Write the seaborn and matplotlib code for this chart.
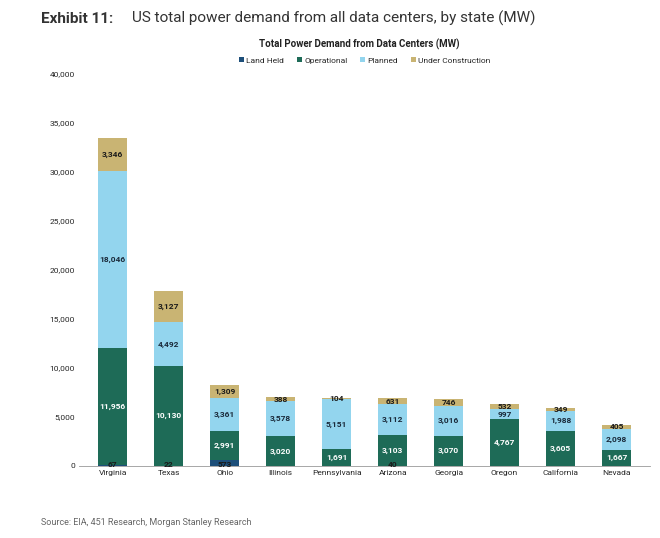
import numpy as np
import pandas as pd
import matplotlib
matplotlib.use("Agg")
import matplotlib.pyplot as plt
import seaborn as sns

states = ['Virginia', 'Texas', 'Ohio', 'Illinois', 'Pennsylvania',
          'Arizona', 'Georgia', 'Oregon', 'California', 'Nevada']
land_held = [67, 22, 573, 0, 0, 40, 0, 0, 0, 0]
operational = [11956, 10130, 2991, 3020, 1691, 3103, 3070, 4767, 3605, 1667]
planned = [18046, 4492, 3361, 3578, 5151, 3112, 3016, 997, 1988, 2098]
under_construction = [3346, 3127, 1309, 388, 104, 631, 746, 532, 349, 405]

series = {'Land Held': land_held, 'Operational': operational,
          'Planned': planned, 'Under Construction': under_construction}
colors = {'Land Held': '#1d4f7a', 'Operational': '#1e6b57',
          'Planned': '#93d5ee', 'Under Construction': '#c9b473'}
text_colors = {'Land Held': '#1a1a1a', 'Operational': 'white',
               'Planned': '#1a2a3a', 'Under Construction': '#1a1a1a'}

df = pd.DataFrame(series, index=states)

sns.set_theme(style='white')
plt.rcParams['font.family'] = ['Roboto', 'DejaVu Sans']

fig = plt.figure(figsize=(6.6, 5.38), dpi=100)
ax = fig.add_axes([0.12, 0.134, 0.865, 0.73])

x = np.arange(len(states))
bottom = np.zeros(len(states))
for name, vals in series.items():
    vals = np.array(vals, dtype=float)
    ax.bar(x, vals, bottom=bottom, width=0.52, color=colors[name], label=name,
           linewidth=0)
    for xi, b, v in zip(x, bottom, vals):
        if v <= 0:
            continue
        y = b + v / 2
        if name == 'Land Held':
            y = b + 100
        ax.text(xi, y, f'{int(v):,}', ha='center', va='center',
                fontsize=6, fontweight='bold', color=text_colors[name])
    bottom += vals

ax.set_ylim(0, 40000)
ax.set_yticks(range(0, 40001, 5000))
ax.set_yticklabels([f'{v:,}' for v in range(0, 40001, 5000)], fontsize=6)
ax.set_xticks(x)
ax.set_xticklabels(states, fontsize=6)
ax.set_xlim(-0.6, len(states) - 0.4)
ax.tick_params(axis='both', length=0, pad=3)
sns.despine(ax=ax, left=True)
ax.spines['bottom'].set_color('#999999')
ax.spines['bottom'].set_linewidth(0.6)

ax.legend(loc='upper center', bbox_to_anchor=(0.5, 1.06), ncol=4, frameon=False,
          fontsize=6, handlelength=0.6, handleheight=0.6, columnspacing=1.5,
          handletextpad=0.3)

fig.text(0.062, 0.965, 'Exhibit 11:', fontsize=11, fontweight='bold',
         color='#333333', va='center')
fig.text(0.2, 0.965, 'US total power demand from all data centers, by state (MW)',
         fontsize=11, color='#333333', va='center')
fig.text(0.545, 0.918, 'Total Power Demand from Data Centers (MW)', fontsize=7,
         fontweight='bold', ha='center', va='center', color='#222222')
fig.text(0.062, 0.028, 'Source: EIA, 451 Research, Morgan Stanley Research',
         fontsize=6.5, color='#666666', va='center')

fig.savefig('out.png', dpi=100)
